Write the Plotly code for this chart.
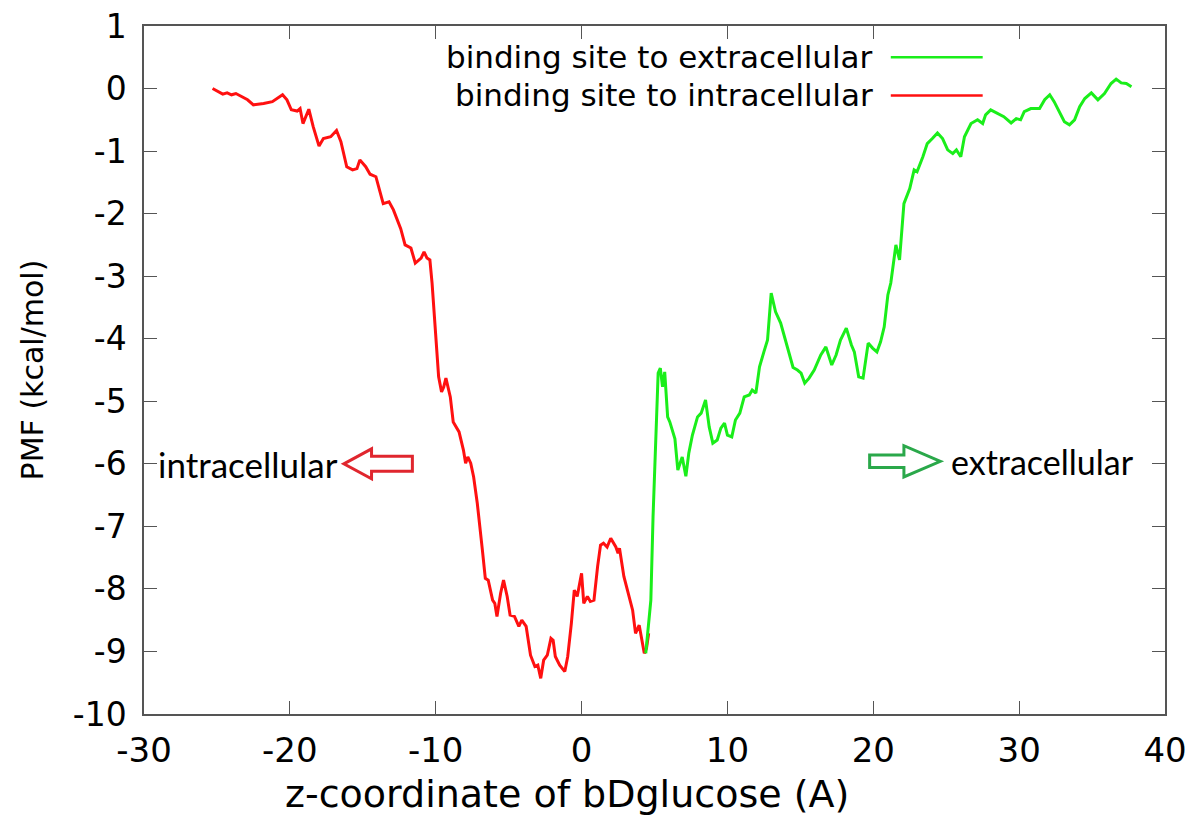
import plotly.graph_objects as go

# ---- data ----
x_intra = [-25.3, -24.6, -24.3, -24.0, -23.7, -23.4, -22.9, -22.5, -21.8, -21.2, -20.9, -20.5, -20.2,
           -19.9, -19.5, -19.3, -19.1, -18.7, -18.4, -18.0, -17.7, -17.2, -16.8, -16.5, -16.1, -15.7,
           -15.4, -15.2, -14.8, -14.5, -14.1, -13.6, -13.2, -12.9, -12.4, -12.1, -11.7, -11.4, -11.0,
           -10.8, -10.6, -10.4, -10.25, -10.0, -9.8, -9.6, -9.45, -9.3, -9.0, -8.8, -8.4, -8.1, -7.95,
           -7.8, -7.6, -7.4, -7.15, -6.8, -6.6, -6.4, -6.1, -5.95, -5.8, -5.55, -5.35, -5.1, -4.9, -4.6,
           -4.3, -4.1, -3.8, -3.5, -3.2, -3.0, -2.8, -2.6, -2.35, -2.1, -1.95, -1.8, -1.5, -1.15, -0.95,
           -0.7, -0.5, -0.3, 0.0, 0.15, 0.4, 0.6, 0.85, 1.1, 1.3, 1.5, 1.75, 2.0, 2.35, 2.5, 2.6, 2.9,
           3.2, 3.5, 3.7, 3.95, 4.3, 4.45, 4.6]
y_intra = [0.0, -0.09, -0.07, -0.10, -0.08, -0.12, -0.18, -0.26, -0.24, -0.21, -0.16, -0.10, -0.18,
           -0.34, -0.36, -0.32, -0.56, -0.33, -0.61, -0.92, -0.80, -0.77, -0.67, -0.85, -1.25, -1.30,
           -1.28, -1.14, -1.25, -1.37, -1.41, -1.84, -1.81, -1.94, -2.24, -2.50, -2.55, -2.79, -2.71,
           -2.61, -2.71, -2.74, -3.11, -3.91, -4.61, -4.85, -4.77, -4.63, -4.93, -5.33, -5.49, -5.78, -5.99,
           -5.89, -5.99, -6.21, -6.63, -7.38, -7.83, -7.86, -8.18, -8.23, -8.44, -8.07, -7.86, -8.12, -8.42, -8.44,
           -8.60, -8.50, -8.60, -9.06, -9.24, -9.22, -9.43, -9.14, -9.06, -8.79, -8.82, -9.08, -9.22, -9.32, -9.08,
           -8.55, -8.02, -8.12, -7.75, -8.23, -8.12, -8.20, -8.18, -7.64, -7.30, -7.27, -7.33, -7.19, -7.33, -7.43,
           -7.35, -7.80, -8.07, -8.34, -8.71, -8.58, -9.03, -8.95, -8.71]

x_extra = [4.4, 4.75, 4.9, 5.1, 5.25, 5.4, 5.55, 5.7, 5.9, 6.05, 6.2, 6.4, 6.6, 6.9, 7.15, 7.35, 7.6,
           7.95, 8.2, 8.5, 8.75, 9.0, 9.3, 9.55, 9.8, 10.0, 10.3, 10.55, 10.85, 11.15, 11.5, 11.7, 11.95,
           12.2, 12.5, 12.75, 13.0, 13.3, 13.65, 14.1, 14.5, 14.8, 15.05, 15.3, 15.6, 15.95, 16.4, 16.75,
           17.15, 17.45, 17.75, 18.15, 18.5, 18.7, 19.0, 19.3, 19.65, 19.95, 20.25, 20.5, 20.75, 21.0, 21.2,
           21.55, 21.8, 22.1, 22.5, 22.8, 23.0, 23.4, 23.7, 24.05, 24.4, 24.75, 25.1, 25.45, 25.7, 26.0,
           26.25, 26.7, 27.15, 27.5, 27.7, 28.05, 28.5, 28.95, 29.45, 29.8, 30.1, 30.35, 30.8, 31.4, 31.75,
           32.1, 32.4, 32.75, 33.1, 33.45, 33.8, 34.15, 34.5, 34.95, 35.4, 35.85, 36.3, 36.65, 37.0, 37.35, 37.7]
y_extra = [-9.03, -8.18, -6.85, -5.51, -4.55, -4.47, -4.77, -4.53, -5.25, -5.33, -5.46, -5.60, -6.10, -5.89,
           -6.20, -5.83, -5.54, -5.25, -5.19, -4.98, -5.41, -5.67, -5.62, -5.43, -5.35, -5.54, -5.57, -5.30,
           -5.19, -4.93, -4.90, -4.82, -4.87, -4.45, -4.21, -4.02, -3.27, -3.57, -3.75, -4.13, -4.46, -4.50,
           -4.55, -4.71, -4.63, -4.50, -4.26, -4.13, -4.42, -4.26, -4.02, -3.83, -4.10, -4.21, -4.61, -4.63,
           -4.07, -4.15, -4.21, -4.05, -3.81, -3.30, -3.11, -2.50, -2.74, -1.84, -1.60, -1.30, -1.33, -1.09,
           -0.88, -0.80, -0.71, -0.80, -0.98, -1.04, -0.98, -1.09, -0.77, -0.56, -0.50, -0.56, -0.42, -0.34,
           -0.40, -0.45, -0.55, -0.48, -0.50, -0.37, -0.32, -0.32, -0.18, -0.10, -0.21, -0.37, -0.53, -0.58,
           -0.50, -0.29, -0.16, -0.07, -0.18, -0.08, 0.08, 0.15, 0.09, 0.08, 0.03]

series_names = ["binding site to extracellular", "binding site to intracellular"]
x_ticks = [-30, -20, -10, 0, 10, 20, 30, 40]
y_ticks = [1, 0, -1, -2, -3, -4, -5, -6, -7, -8, -9, -10]
x_title = "z-coordinate of bDglucose (A)"
y_title = "PMF (kcal/mol)"

RED = "#ff1010"
GREEN = "#1aee1a"
AXC = "#555555"
FONT = "DejaVu Sans"

fig = go.Figure()
fig.add_trace(go.Scatter(x=x_intra, y=y_intra, mode="lines", name=series_names[1],
                         line=dict(color=RED, width=3), showlegend=False))
fig.add_trace(go.Scatter(x=x_extra, y=y_extra, mode="lines", name=series_names[0],
                         line=dict(color=GREEN, width=3), showlegend=False))

# legend (text left of sample line, gnuplot style)
leg_y = [0.50, -0.11]
leg_col = [GREEN, RED]
for name, yy, col in zip(series_names, leg_y, leg_col):
    fig.add_annotation(x=20.15, y=yy, xref="x", yref="y", text=name, showarrow=False,
                       xanchor="right", yanchor="middle", font=dict(family=FONT, size=31, color="black"))
    fig.add_shape(type="line", x0=21.2, x1=27.5, y0=yy, y1=yy, xref="x", yref="y",
                  line=dict(color=col, width=2.5))

# direction labels and hollow arrows
fig.add_annotation(x=-16.55, y=-6.0, xref="x", yref="y", text="intracellular", showarrow=False,
                   xanchor="right", yanchor="middle", font=dict(family="Lato", size=35, color="black"))
fig.add_annotation(x=25.2, y=-5.97, xref="x", yref="y", text="extracellular", showarrow=False,
                   xanchor="left", yanchor="middle", font=dict(family="Lato", size=34, color="black"))

def arrow_path(tip, base, tail, yc, hh, sh):
    return (f"M {tip} {yc} L {base} {yc+hh} L {base} {yc+sh} L {tail} {yc+sh} "
            f"L {tail} {yc-sh} L {base} {yc-sh} L {base} {yc-hh} Z")

fig.add_shape(type="path", xref="x", yref="y",
              path=arrow_path(-16.3, -14.4, -11.6, -6.0, 0.24, 0.12),
              line=dict(color="#e0262e", width=3), fillcolor="rgba(0,0,0,0)")
fig.add_shape(type="path", xref="x", yref="y",
              path=arrow_path(24.6, 22.1, 19.75, -5.96, 0.25, 0.10),
              line=dict(color="#2aa84a", width=3), fillcolor="rgba(0,0,0,0)")

# x axis title
fig.add_annotation(x=0.414, y=-0.117, xref="paper", yref="paper", text=x_title, showarrow=False,
                   xanchor="center", yanchor="middle", font=dict(family=FONT, size=38, color="black"))

fig.update_layout(
    width=1190, height=811,
    margin=dict(l=136, r=33, t=18, b=105),
    plot_bgcolor="white", paper_bgcolor="white",
    font=dict(family=FONT, size=28, color="black"),
    showlegend=False,
)
fig.update_xaxes(range=[-30, 40], tickvals=x_ticks, ticktext=[str(v) for v in x_ticks],
                 ticks="inside", ticklen=13, tickcolor=AXC, tickwidth=1.3,
                 showline=True, linecolor=AXC, linewidth=1.5, mirror="ticks",
                 showgrid=False, zeroline=False, ticklabelstandoff=5, automargin=False,
                 ticklabeloverflow="allow",
                 tickfont=dict(family=FONT, size=34))
fig.update_yaxes(range=[-10, 1], tickvals=y_ticks, ticktext=[str(v) for v in y_ticks],
                 ticks="inside", ticklen=13, tickcolor=AXC, tickwidth=1.3,
                 showline=True, linecolor=AXC, linewidth=1.5, mirror="ticks",
                 showgrid=False, zeroline=False, ticklabelstandoff=9, automargin=False,
                 ticklabeloverflow="allow",
                 tickfont=dict(family=FONT, size=33),
                 title=dict(text=y_title, font=dict(family=FONT, size=30), standoff=20))

fig.write_html("out.html")
